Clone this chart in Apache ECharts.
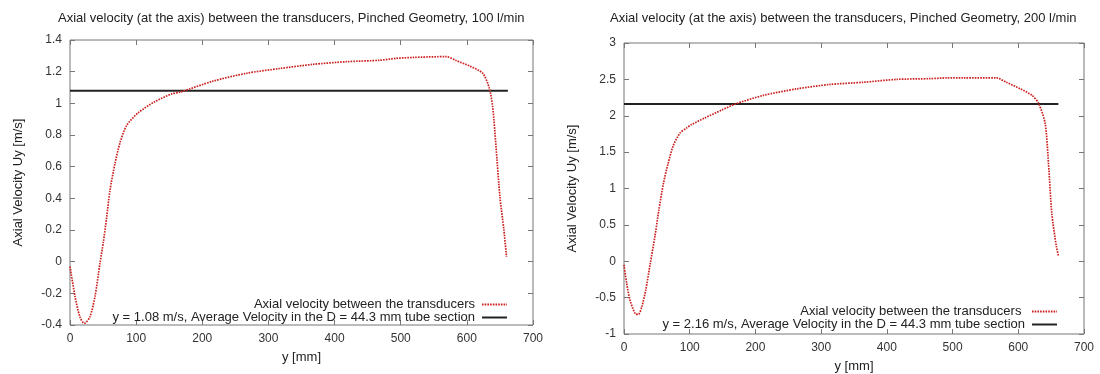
<!DOCTYPE html>
<html>
<head>
<meta charset="utf-8">
<script src="https://cdn.jsdelivr.net/npm/echarts@6/dist/echarts.min.js"></script>
<style>html,body{margin:0;padding:0;background:#fff}#c{width:1100px;height:374px}</style>
</head>
<body>
<div id="c"></div>
<script>
// ---- data ----
const titles = [
  'Axial velocity (at the axis) between the transducers, Pinched Geometry, 100 l/min',
  'Axial velocity (at the axis) between the transducers, Pinched Geometry, 200 l/min'
];
const xName = 'y [mm]';
const yName = 'Axial Velocity Uy [m/s]';
const curveName = 'Axial velocity between the transducers';
const avgNames = [
  'y = 1.08 m/s, Average Velocity in the D = 44.3 mm tube section',
  'y = 2.16 m/s, Average Velocity in the D = 44.3 mm tube section'
];
// left chart: 100 l/min
const xs100 = [0, 7.6, 15, 21.6, 30, 37.8, 45.3, 50.3, 55.4, 60.4, 68, 75.5, 85.6, 103, 128, 154, 166, 216, 267, 317, 367, 418, 468, 493, 519, 569, 584, 604, 624, 634, 639, 644, 650, 656, 660];
const uy100 = [-0.03, -0.22, -0.35, -0.39, -0.35, -0.22, -0.01, 0.12, 0.28, 0.45, 0.62, 0.75, 0.86, 0.94, 1.01, 1.06, 1.07, 1.14, 1.19, 1.22, 1.246, 1.263, 1.272, 1.284, 1.29, 1.295, 1.27, 1.236, 1.19, 1.095, 0.98, 0.73, 0.41, 0.20, 0.03];
const avgX100 = [0, 662];
const avgY100 = [1.08, 1.08];
// right chart: 200 l/min
const xs200 = [0, 4, 9, 17, 22, 27, 33, 40, 47, 53, 60, 67, 75, 85, 95, 103, 123, 149, 169, 212, 263, 313, 364, 415, 466, 491, 516, 567, 582, 603, 621, 631, 641, 646, 651, 658, 661];
const uy200 = [-0.05, -0.30, -0.53, -0.72, -0.73, -0.63, -0.40, -0.03, 0.34, 0.70, 1.07, 1.34, 1.59, 1.76, 1.83, 1.88, 1.97, 2.08, 2.16, 2.28, 2.37, 2.43, 2.46, 2.50, 2.51, 2.52, 2.52, 2.52, 2.46, 2.37, 2.28, 2.17, 1.89, 1.34, 0.66, 0.20, 0.08];
const avgX200 = [0, 661];
const avgY200 = [2.16, 2.16];
const yRange100 = [-0.4, 1.4, 0.2];
const yRange200 = [-1, 3, 0.5];
const xRange = [0, 700, 100];

const pairs = (a, b) => a.map((v, i) => [v, b[i]]);

const FONT = 'Liberation Sans, Arial, sans-serif';
const grids = [
  {left: 70, top: 40, width: 463, height: 285},
  {left: 624, top: 43, width: 460, height: 291}
];
const yr = [yRange100, yRange200];

const xAxes = [], yAxes = [];
grids.forEach((g, i) => {
  const baseX = {
    type: 'value', gridIndex: i, min: xRange[0], max: xRange[1], interval: xRange[2],
    axisLine: {show: false, onZero: false}, splitLine: {show: false},
    axisTick: {inside: true, length: 5, lineStyle: {color: '#777'}}
  };
  xAxes.push(Object.assign({}, baseX, {
    position: 'bottom', name: xName, nameLocation: 'middle', nameGap: 26,
    nameTextStyle: {fontFamily: FONT, fontSize: 13, color: '#222'},
    axisLabel: {margin: 8, fontFamily: FONT, fontSize: 12, color: '#333'}
  }));
  xAxes.push(Object.assign({}, baseX, {position: 'top', axisLabel: {show: false}}));
  const baseY = {
    type: 'value', gridIndex: i, min: yr[i][0], max: yr[i][1], interval: yr[i][2],
    axisLine: {show: false, onZero: false}, splitLine: {show: false},
    axisTick: {inside: true, length: 5, lineStyle: {color: '#777'}}
  };
  yAxes.push(Object.assign({}, baseY, {
    position: 'left', name: yName, nameLocation: 'middle', nameGap: 45,
    nameTextStyle: {fontFamily: FONT, fontSize: 13, color: '#222'},
    axisLabel: {margin: 8, fontFamily: FONT, fontSize: 12, color: '#333'}
  }));
  yAxes.push(Object.assign({}, baseY, {position: 'right', axisLabel: {show: false}}));
});

const redStyle = {color: '#cc2020', width: 1.7, type: [1.6, 1.1]};
const blackStyle = {color: '#222', width: 2, type: 'solid'};

const series = [
  {name: curveName, type: 'line', xAxisIndex: 0, yAxisIndex: 0, data: pairs(xs100, uy100),
   symbol: 'none', smooth: 0.25, lineStyle: redStyle, itemStyle: {color: '#cc2020'}, z: 3},
  {name: avgNames[0], type: 'line', xAxisIndex: 0, yAxisIndex: 0, data: pairs(avgX100, avgY100),
   symbol: 'none', lineStyle: blackStyle, itemStyle: {color: '#222'}, z: 2},
  {name: curveName + ' ', type: 'line', xAxisIndex: 2, yAxisIndex: 2, data: pairs(xs200, uy200),
   symbol: 'none', smooth: 0.25, lineStyle: redStyle, itemStyle: {color: '#cc2020'}, z: 3},
  {name: avgNames[1], type: 'line', xAxisIndex: 2, yAxisIndex: 2, data: pairs(avgX200, avgY200),
   symbol: 'none', lineStyle: blackStyle, itemStyle: {color: '#222'}, z: 2}
];

const legBase = {
  orient: 'horizontal', align: 'right', itemWidth: 25, itemHeight: 10, itemGap: 4,
  selectedMode: false, padding: 0,
  itemStyle: {opacity: 0},
  textStyle: {fontFamily: FONT, fontSize: 13, color: '#222', padding: [0, 2, 0, 0]}
};
const legends = [
  Object.assign({}, legBase, {data: [curveName], right: 592, top: 298}),
  Object.assign({}, legBase, {data: [avgNames[0]], right: 592, top: 311}),
  Object.assign({}, legBase, {data: [curveName + ' '], right: 42, top: 305}),
  Object.assign({}, legBase, {data: [avgNames[1]], right: 42, top: 318})
];

const chart = echarts.init(document.getElementById('c'), null, {renderer: 'canvas'});
chart.setOption({
  animation: false,
  backgroundColor: '#fff',
  title: [
    {text: titles[0], left: 58, top: 12, padding: 0, textStyle: {fontFamily: FONT, fontSize: 13, fontWeight: 'normal', color: '#222'}},
    {text: titles[1], left: 610, top: 12, padding: 0, textStyle: {fontFamily: FONT, fontSize: 13, fontWeight: 'normal', color: '#222'}}
  ],
  grid: grids.map(g => Object.assign({show: true, borderColor: '#777', borderWidth: 1, backgroundColor: 'transparent', outerBoundsMode: 'none', containLabel: false}, g)),
  xAxis: xAxes,
  yAxis: yAxes,
  legend: legends,
  series: series
});
</script>
</body>
</html>
